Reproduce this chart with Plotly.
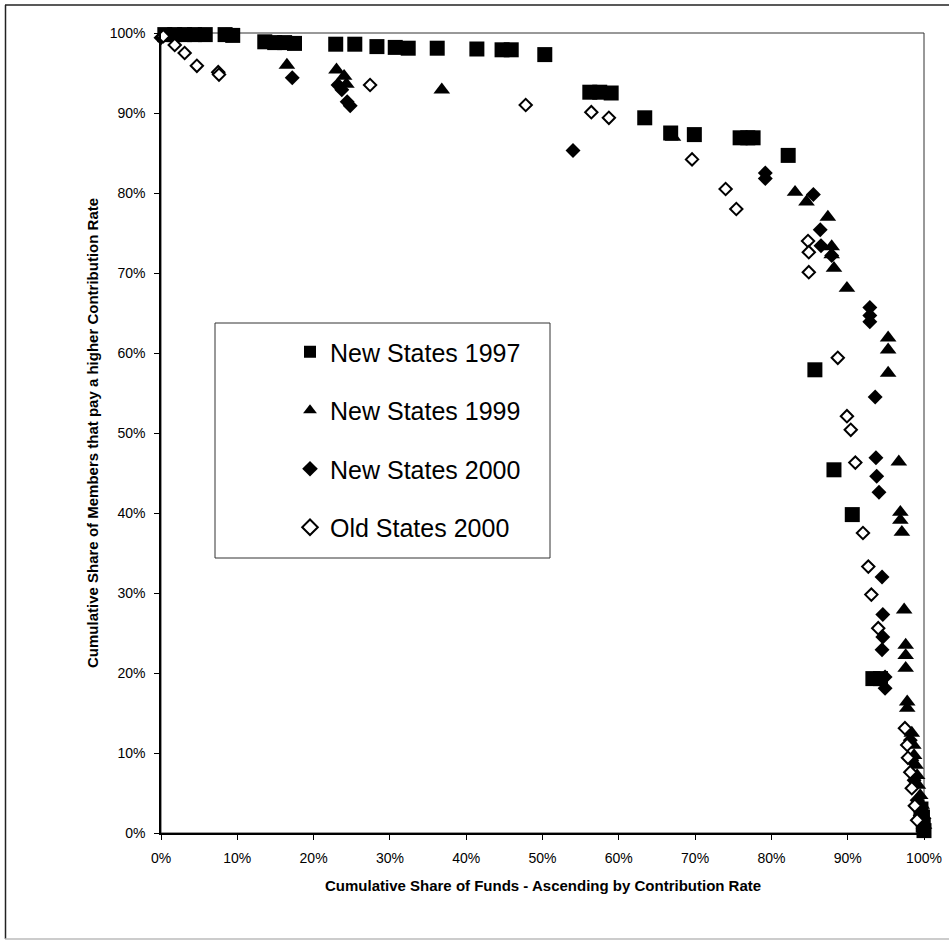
import plotly.graph_objects as go

# ---- data (percent) ----
ns1997_x = [0.5, 1.8, 3.1, 4.4, 5.8, 8.4, 9.4, 13.6, 14.9, 16.2, 17.5, 22.9, 25.4, 28.3, 30.7, 32.4,
            36.2, 41.4, 44.7, 45.9, 50.3, 56.2, 57.5, 59.0, 63.4, 66.8, 69.9, 75.9, 76.9, 77.6, 82.2,
            85.7, 88.2, 90.6, 93.3, 94.3, 99.6, 99.8, 99.9, 100.0]
ns1997_y = [99.8, 99.8, 99.8, 99.8, 99.8, 99.8, 99.7, 98.9, 98.8, 98.8, 98.7, 98.6, 98.6, 98.3, 98.2, 98.1,
            98.1, 98.0, 97.9, 97.9, 97.3, 92.6, 92.6, 92.5, 89.4, 87.5, 87.3, 86.9, 86.9, 86.9, 84.7,
            57.9, 45.4, 39.8, 19.3, 19.3, 3.0, 2.0, 1.0, 0.3]

ns1999_x = [16.5, 23.0, 24.0, 24.3, 36.8, 67.1, 83.1, 84.6, 87.4, 87.9, 87.9, 88.2, 89.9, 95.3, 95.3,
            95.3, 96.7, 96.9, 96.9, 97.1, 97.4, 97.6, 97.6, 97.6, 97.8, 97.8, 98.4, 98.6, 98.7, 98.9,
            99.1, 99.2, 99.5, 99.7, 99.9, 100.0]
ns1999_y = [96.0, 95.4, 94.6, 93.6, 92.9, 87.0, 80.1, 78.9, 77.0, 73.3, 72.3, 70.6, 68.1, 61.9, 60.4,
            57.5, 46.4, 40.1, 39.1, 37.6, 27.9, 23.5, 22.2, 20.6, 16.4, 15.6, 12.5, 11.0, 9.7, 8.5,
            7.2, 6.0, 4.7, 3.5, 2.2, 1.0]

ns2000_x = [0.0, 17.2, 23.2, 23.7, 24.4, 24.8, 54.0, 79.2, 79.2, 85.5, 86.4, 86.5, 87.9, 92.9, 92.9,
            92.9, 93.6, 93.7, 93.8, 94.1, 94.5, 94.6, 94.6, 94.5, 94.9, 94.9, 98.2, 98.4, 98.7, 99.1,
            99.5, 99.9]
ns2000_y = [99.4, 94.4, 93.5, 92.9, 91.4, 90.9, 85.3, 82.5, 81.8, 79.8, 75.4, 73.4, 72.2, 65.7, 64.7,
            63.9, 54.5, 46.9, 44.6, 42.6, 32.0, 27.3, 24.5, 22.9, 19.5, 18.1, 11.6, 9.1, 6.6, 4.1,
            2.2, 0.6]

os2000_x = [0.3, 1.8, 3.1, 4.7, 7.5, 7.6, 27.4, 47.8, 56.4, 58.7, 69.6, 74.0, 75.4, 84.8, 84.9, 84.9,
            88.7, 89.9, 90.4, 91.0, 92.0, 92.7, 93.1, 94.0, 97.5, 97.8, 97.9, 98.2, 98.4, 98.8, 99.1]
os2000_y = [99.6, 98.5, 97.5, 95.9, 95.1, 94.8, 93.5, 91.0, 90.1, 89.4, 84.2, 80.5, 78.0, 74.0, 72.6, 70.1,
            59.4, 52.1, 50.4, 46.3, 37.5, 33.3, 29.8, 25.6, 13.1, 11.0, 9.4, 7.6, 5.6, 3.4, 1.6]

tick_vals = [0, 10, 20, 30, 40, 50, 60, 70, 80, 90, 100]
tick_text = [f"{v}%" for v in tick_vals]

FONT = "Liberation Sans, Arial, sans-serif"

fig = go.Figure()
fig.add_trace(go.Scatter(x=ns1997_x, y=ns1997_y, mode="markers", name="New States 1997",
                         legendgroup="a", cliponaxis=False,
                         marker=dict(symbol="square", size=15, color="black")))
fig.add_trace(go.Scatter(x=ns1999_x, y=ns1999_y, mode="markers", name="New States 1999",
                         legendgroup="b", cliponaxis=False,
                         marker=dict(symbol="triangle-up", size=14.5, color="black")))
fig.add_trace(go.Scatter(x=ns2000_x, y=ns2000_y, mode="markers", name="New States 2000",
                         legendgroup="c", cliponaxis=False,
                         marker=dict(symbol="diamond", size=11.5, color="black")))
fig.add_trace(go.Scatter(x=os2000_x, y=os2000_y, mode="markers", name="Old States 2000",
                         legendgroup="d", cliponaxis=False,
                         marker=dict(symbol="diamond", size=9.5, color="white",
                                     line=dict(color="black", width=2))))

W, H = 949, 940
L, R, T, B = 161, 25, 33, 107
pw, ph = W - L - R, H - T - B


def px_x(p):
    return (p - L) / pw


def px_y(p):
    return (H - B - p) / ph


shapes = [
    # plot frame
    dict(type="rect", xref="paper", yref="paper", x0=0, x1=1, y0=0, y1=1,
         line=dict(color="#333333", width=1), layer="below"),
    # legend box
    dict(type="rect", xref="paper", yref="paper", x0=px_x(215), x1=px_x(550),
         y0=px_y(558), y1=px_y(323), line=dict(color="#333333", width=1),
         fillcolor="white", layer="below"),
    # outer frame
    dict(type="line", xref="paper", yref="paper", x0=px_x(5), x1=px_x(949), y0=px_y(5), y1=px_y(5),
         line=dict(color="#222222", width=1.5)),
    dict(type="line", xref="paper", yref="paper", x0=px_x(5.5), x1=px_x(5.5), y0=px_y(5), y1=px_y(939),
         line=dict(color="#222222", width=1.5)),
    dict(type="line", xref="paper", yref="paper", x0=px_x(5), x1=px_x(949), y0=px_y(939), y1=px_y(939),
         line=dict(color="#bbbbbb", width=1.5)),
]

fig.update_layout(
    width=W, height=H,
    margin=dict(l=L, r=R, t=T, b=B, autoexpand=False),
    paper_bgcolor="white", plot_bgcolor="white",
    font=dict(family=FONT, color="black", size=14),
    showlegend=True,
    legend=dict(x=px_x(290), y=px_y(329), xanchor="left", yanchor="top",
                bgcolor="rgba(0,0,0,0)", borderwidth=0,
                font=dict(family=FONT, size=25, color="black"),
                tracegroupgap=23, itemsizing="constant"),
    shapes=shapes,
    annotations=[
        dict(text="<b>Cumulative Share of Funds - Ascending by Contribution Rate</b>",
             xref="paper", yref="paper", x=0.5, y=px_y(885), xanchor="center", yanchor="middle",
             showarrow=False, font=dict(family=FONT, size=15)),
        dict(text="<b>Cumulative Share of Members that pay a higher Contribution Rate</b>",
             xref="paper", yref="paper", x=px_x(92), y=0.5, xanchor="center", yanchor="middle",
             textangle=-90, showarrow=False, font=dict(family=FONT, size=15)),
    ],
)

fig.update_xaxes(range=[0, 100], tickvals=tick_vals, ticktext=tick_text, showgrid=False,
                 zeroline=False, showline=True, linecolor="black", linewidth=1.5,
                 ticks="outside", ticklen=5, tickcolor="black", tickwidth=1,
                 ticklabelstandoff=6, tickfont=dict(family=FONT, size=14))
fig.update_yaxes(range=[0, 100], tickvals=tick_vals, ticktext=tick_text, showgrid=False,
                 zeroline=False, showline=True, linecolor="black", linewidth=1.5,
                 ticks="outside", ticklen=5, tickcolor="black", tickwidth=1,
                 ticklabelstandoff=6, tickfont=dict(family=FONT, size=14))

fig.write_html("out.html", config={"displayModeBar": False},
               post_script="document.body.style.margin='0';")
